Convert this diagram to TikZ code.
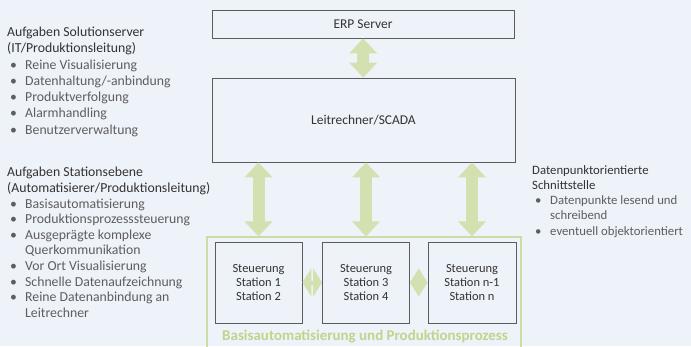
\documentclass[tikz,border=0pt]{standalone}
\usepackage{fontspec}
\setmainfont{Carlito}
\usetikzlibrary{arrows.meta}

\definecolor{paper}{HTML}{EEF2F9}
\definecolor{boxline}{HTML}{5C5C5C}
\definecolor{arrowgreen}{HTML}{D3E0B0}
\definecolor{framegreen}{HTML}{CDDCA6}
\definecolor{textgreen}{HTML}{C0D48C}
\definecolor{headtext}{HTML}{333333}
\definecolor{itemtext}{HTML}{5E5E5E}

\newcommand{\hd}[1]{{\color{headtext}#1}}
\newcommand{\itm}{\hspace*{3bp}\makebox[15bp][l]{\textbullet}}
\newcommand{\itmgap}{\hspace*{18bp}}

\tikzset{
  level/.style={draw=boxline, line width=0.8bp, fill=paper, inner sep=0pt,
    text=headtext, font=\fontsize{13.5}{15}\selectfont},
  station/.style={level, minimum width=87bp, minimum height=81bp, align=center,
    font=\fontsize{12.5}{14}\selectfont},
  tasks/.style={anchor=north west, inner sep=0pt, align=left, text=itemtext},
  updown/.style={draw=arrowgreen, line width=12bp,
    {Triangle[width=27bp,length=15bp]}-{Triangle[width=27bp,length=15bp]}},
  sidestep/.style={draw=arrowgreen, line width=4bp,
    {Triangle[width=28bp,length=9bp]}-{Triangle[width=28bp,length=9bp]}}
}

\begin{document}
\begin{tikzpicture}[x=1bp,y=-1bp]
\fill[paper] (0,0) rectangle (691,346);
\useasboundingbox (0,0) rectangle (691,346);

% upper levels
\node[level, minimum width=302bp, minimum height=28bp] (erp) at (363,24) {ERP Server};
\node[level, minimum width=303bp, minimum height=84bp] (scada) at (363.5,120) {Leitrechner/SCADA};

% station level
\node[draw=framegreen, line width=1.2bp, minimum width=314bp, minimum height=116bp,
  inner sep=0pt] (plant) at (364,295) {};
\node[station] (st1) at (258.5,282.5) {Steuerung\\Station 1\\Station 2};
\node[station] (st2) at (366,282.5) {Steuerung\\Station 3\\Station 4};
\node[station, minimum width=88bp] (st3) at (472,282.5) {Steuerung\\Station n-1\\Station n};
\node[anchor=base, text=textgreen, font=\fontsize{15}{17}\selectfont\bfseries]
  (plantlabel) at (365,340) {Basisautomatisierung und Produktionsprozess};

% arrows
\draw[updown] (erp) -- (scada);
\draw[updown] (scada.south -| st1) -- (plant.north -| st1);
\draw[updown] (scada.south -| st2) -- (plant.north -| st2);
\draw[updown] (scada.south -| st3) -- (plant.north -| st3);
\draw[sidestep] (st1) -- (st2);
\draw[sidestep] (st2) -- (st3);

% task lists
\node[tasks, font=\fontsize{13.8}{16.3}\selectfont] (solution) at (7,27)
  {\hd{Aufgaben Solutionserver}\\
   \hd{(IT/Produktionsleitung)}\\
   \itm Reine Visualisierung\\
   \itm Datenhaltung/-anbindung\\
   \itm Produktverfolgung\\
   \itm Alarmhandling\\
   \itm Benutzerverwaltung};

\node[tasks, font=\fontsize{13.8}{15.7}\selectfont] (stationtasks) at (7,167)
  {\hd{Aufgaben Stationsebene}\\
   \hd{(Automatisierer/Produktionsleitung)}\\
   \itm Basisautomatisierung\\
   \itm Produktionsprozesssteuerung\\
   \itm Ausgeprägte komplexe\\
   \itmgap Querkommunikation\\
   \itm Vor Ort Visualisierung\\
   \itm Schnelle Datenaufzeichnung\\
   \itm Reine Datenanbindung an\\
   \itmgap Leitrechner};

\node[tasks, font=\fontsize{12.8}{15.3}\selectfont] (interface) at (532,165)
  {\hd{Datenpunktorientierte}\\
   \hd{Schnittstelle}\\
   \itm Datenpunkte lesend und\\
   \itmgap schreibend\\
   \itm eventuell objektorientiert};
\end{tikzpicture}
\end{document}
